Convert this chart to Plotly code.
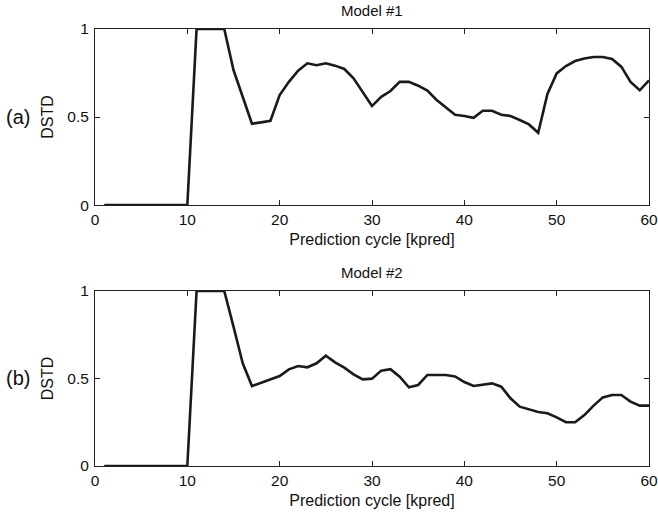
import plotly.graph_objects as go

cycles = list(range(1, 61))
model1 = [0]*10 + [1, 1, 1, 1, 0.767, 0.61, 0.462, 0.47, 0.479, 0.625,
          0.70, 0.763, 0.805, 0.794, 0.805, 0.792, 0.773, 0.72, 0.644, 0.5625,
          0.615, 0.648, 0.70, 0.70, 0.678, 0.65, 0.597, 0.555, 0.513, 0.506,
          0.496, 0.536, 0.536, 0.513, 0.506, 0.483, 0.458, 0.411, 0.631, 0.748,
          0.79, 0.818, 0.833, 0.841, 0.841, 0.83, 0.786, 0.699, 0.652, 0.708]
model2 = [0]*10 + [1, 1, 1, 1, 0.796, 0.587, 0.457, 0.476, 0.491, 0.514,
          0.552, 0.571, 0.564, 0.587, 0.63, 0.592, 0.562, 0.524, 0.495, 0.499,
          0.545, 0.553, 0.51, 0.45, 0.463, 0.52, 0.52, 0.52, 0.512, 0.48,
          0.457, 0.463, 0.472, 0.453, 0.387, 0.339, 0.324, 0.309, 0.301, 0.278,
          0.25, 0.25, 0.291, 0.345, 0.392, 0.406, 0.406, 0.368, 0.345, 0.345]
titles = ["Model #1", "Model #2"]
panel_labels = ["(a)", "(b)"]
xticks = [0, 10, 20, 30, 40, 50, 60]
yticks = [0, 0.5, 1]
yticklabels = ["0", "0.5", "1"]

FONT = "Liberation Sans, Arial, Helvetica, sans-serif"

fig = go.Figure()
domains = [[0.597, 1.0], [0.0, 0.4005]]
for i, data in enumerate([model1, model2]):
    xa = "x" if i == 0 else "x2"
    ya = "y" if i == 0 else "y2"
    fig.add_trace(go.Scatter(x=cycles, y=data, mode="lines",
                             line=dict(color="#1a1a1a", width=2.6),
                             xaxis=xa, yaxis=ya, showlegend=False))
    axkw = dict(showline=True, linecolor="#222", linewidth=1, mirror="ticks",
                ticks="inside", ticklen=5, tickcolor="#222", showgrid=False,
                zeroline=False, automargin=False,
                tickfont=dict(size=15.5, color="#111", family=FONT))
    xname = "xaxis" if i == 0 else "xaxis2"
    yname = "yaxis" if i == 0 else "yaxis2"
    fig.update_layout(**{
        xname: dict(axkw, range=[0, 60], tickvals=xticks, anchor=ya,
                    title=dict(text="Prediction cycle [kpred]", standoff=7,
                               font=dict(size=16, color="#111", family=FONT))),
        yname: dict(axkw, range=[0, 1], tickvals=yticks, ticktext=yticklabels,
                    domain=domains[i], anchor=xa, ticklabelstandoff=2,
                    title=dict(text="DSTD", standoff=9,
                               font=dict(size=16, color="#111", family=FONT))),
    })
    top = domains[i][1]
    mid = (domains[i][0] + domains[i][1]) / 2
    fig.add_annotation(text=titles[i], xref="paper", yref="paper", x=0.5, y=top,
                       yshift=8, yanchor="bottom", showarrow=False,
                       font=dict(size=15, color="#111", family=FONT))
    fig.add_annotation(text=panel_labels[i], xref="paper", yref="paper",
                       x=-0.1385, y=mid, xanchor="center", yanchor="middle",
                       showarrow=False,
                       font=dict(size=20, color="#111", family=FONT))

fig.update_layout(width=658, height=513, paper_bgcolor="white",
                  plot_bgcolor="white",
                  margin=dict(l=95, r=9, t=29, b=47),
                  font=dict(family=FONT, color="#111"))
fig.write_html("out.html")
